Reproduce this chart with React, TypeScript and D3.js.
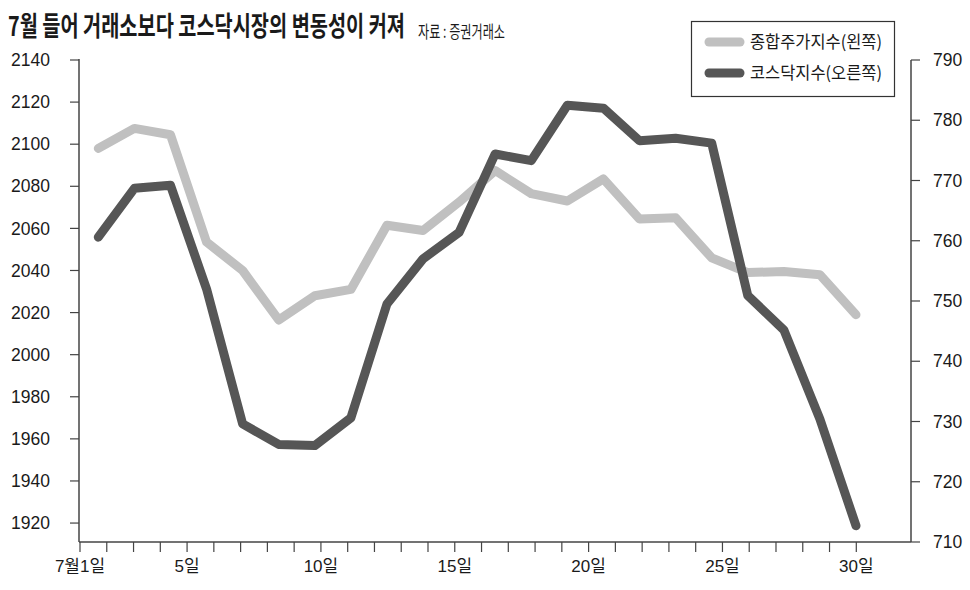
import React from 'react';
import * as d3 from 'd3';

const kospi = [2098, 2107.5, 2104.5, 2053.5, 2040, 2016.5, 2028, 2031, 2061.5, 2059, 2072.5, 2087.5, 2076.5, 2073, 2083.5, 2064.5, 2065, 2046, 2039, 2039.5, 2038, 2019];
const kosdaq = [760.6, 768.7, 769.2, 752, 729.6, 726.2, 726, 730.6, 749.5, 757, 761.4, 774.4, 773.3, 782.5, 782, 776.6, 777, 776.2, 750.9, 745.2, 730.4, 712.7];
const leftTicks = [1920, 1940, 1960, 1980, 2000, 2020, 2040, 2060, 2080, 2100, 2120, 2140];
const rightTicks = [710, 720, 730, 740, 750, 760, 770, 780, 790];
const dayTicks = d3.range(1, 31);
const dayLabels: [number, string][] = [[1, '7월1일'], [5, '5일'], [10, '10일'], [15, '15일'], [20, '20일'], [25, '25일'], [30, '30일']];
const seriesNames = ['종합주가지수(왼쪽)', '코스닥지수(오른쪽)'];
const title = '7월 들어 거래소보다 코스닥시장의 변동성이 커져';
const source = '자료 : 증권거래소';

const LIGHT = '#c0c0c0';
const DARK = '#565656';
const AXIS = '#444';
const TXT = '#1a1a1a';

export default function App() {
  const plotL = 79, plotR = 911, plotT = 60, plotB = 542;
  const xIdx = d3.scaleLinear().domain([0, kospi.length - 1]).range([98.3, 856]);
  const xDay = d3.scaleLinear().domain([1, 30]).range([80, 856.3]);
  const yL = d3.scaleLinear().domain([1911, 2140]).range([plotB, plotT]);
  const yR = d3.scaleLinear().domain([710, 790]).range([plotB, plotT]);
  const lineL = d3.line<number>().x((_, i) => xIdx(i)).y(d => yL(d));
  const lineR = d3.line<number>().x((_, i) => xIdx(i)).y(d => yR(d));
  const numFont = '"Liberation Sans", Arial, "Noto Sans CJK KR", sans-serif';
  const krFont = '"Noto Sans CJK KR", "Liberation Sans", sans-serif';
  const ts = 0.68; // title horizontal compression
  const ss = 0.72; // source compression
  const ls = 0.88; // legend compression

  return (
    <svg width={970} height={590} style={{ position: 'absolute', left: 0, top: 0, background: '#fff' }}>
      <rect x={0} y={0} width={970} height={590} fill="#fff" />
      {/* title */}
      <g transform={`translate(8,36) scale(${ts},1)`}>
        <text x={0} y={0} fontFamily={krFont} fontWeight={700} fontSize={27} fill={TXT} textLength={397 / ts} lengthAdjust="spacingAndGlyphs">{title}</text>
      </g>
      <g transform={`translate(418,38) scale(${ss},1)`}>
        <text x={0} y={0} fontFamily={krFont} fontSize={17} fill={TXT} textLength={87 / ss} lengthAdjust="spacingAndGlyphs">{source}</text>
      </g>

      {/* left axis */}
      <line x1={plotL} x2={plotL} y1={yL(2140) - 1} y2={plotB} stroke={AXIS} strokeWidth={1.5} />
      {leftTicks.map(t => (
        <g key={'l' + t}>
          <line x1={plotL - 9} x2={plotL} y1={yL(t)} y2={yL(t)} stroke={AXIS} strokeWidth={1.2} />
          <text x={50} y={yL(t)} dy="0.35em" textAnchor="end" fontFamily={numFont} fontSize={17.5} fill={TXT}>{t}</text>
        </g>
      ))}

      {/* right axis */}
      <line x1={plotR} x2={plotR} y1={yR(790)} y2={plotB} stroke={AXIS} strokeWidth={1.5} />
      {rightTicks.map(t => (
        <g key={'r' + t}>
          <line x1={plotR} x2={plotR + 9} y1={yR(t)} y2={yR(t)} stroke={AXIS} strokeWidth={1.2} />
          <text x={933} y={yR(t)} dy="0.35em" textAnchor="start" fontFamily={numFont} fontSize={17.5} fill={TXT}>{t}</text>
        </g>
      ))}

      {/* x axis */}
      <line x1={plotL} x2={plotR} y1={plotB} y2={plotB} stroke={AXIS} strokeWidth={1.5} />
      {dayTicks.map(d => (
        <line key={'d' + d} x1={xDay(d)} x2={xDay(d)} y1={plotB} y2={plotB + 10} stroke={AXIS} strokeWidth={1.2} />
      ))}
      {dayLabels.map(([d, s]) => (
        <text key={'dl' + d} x={xDay(d)} y={572} textAnchor="middle" fontFamily={numFont} fontSize={17} fill={TXT}>{s}</text>
      ))}

      {/* lines */}
      <path d={lineL(kospi) || ''} fill="none" stroke={LIGHT} strokeWidth={9} strokeLinejoin="round" strokeLinecap="round" />
      <path d={lineR(kosdaq) || ''} fill="none" stroke={DARK} strokeWidth={9} strokeLinejoin="round" strokeLinecap="round" />

      {/* legend */}
      <rect x={691.5} y={21.5} width={203} height={75} fill="#fff" stroke="#333" strokeWidth={1.2} />
      <line x1={709} x2={740} y1={42} y2={42} stroke={LIGHT} strokeWidth={9} strokeLinecap="round" />
      <line x1={709} x2={740} y1={73} y2={73} stroke={DARK} strokeWidth={9} strokeLinecap="round" />
      <g transform={`translate(750,42) scale(${ls},1)`}>
        <text x={0} y={0} dy="0.35em" fontFamily={krFont} fontSize={17} fill={TXT} textLength={132 / ls} lengthAdjust="spacingAndGlyphs">{seriesNames[0]}</text>
      </g>
      <g transform={`translate(750,73) scale(${ls},1)`}>
        <text x={0} y={0} dy="0.35em" fontFamily={krFont} fontSize={17} fill={TXT} textLength={132 / ls} lengthAdjust="spacingAndGlyphs">{seriesNames[1]}</text>
      </g>
    </svg>
  );
}
